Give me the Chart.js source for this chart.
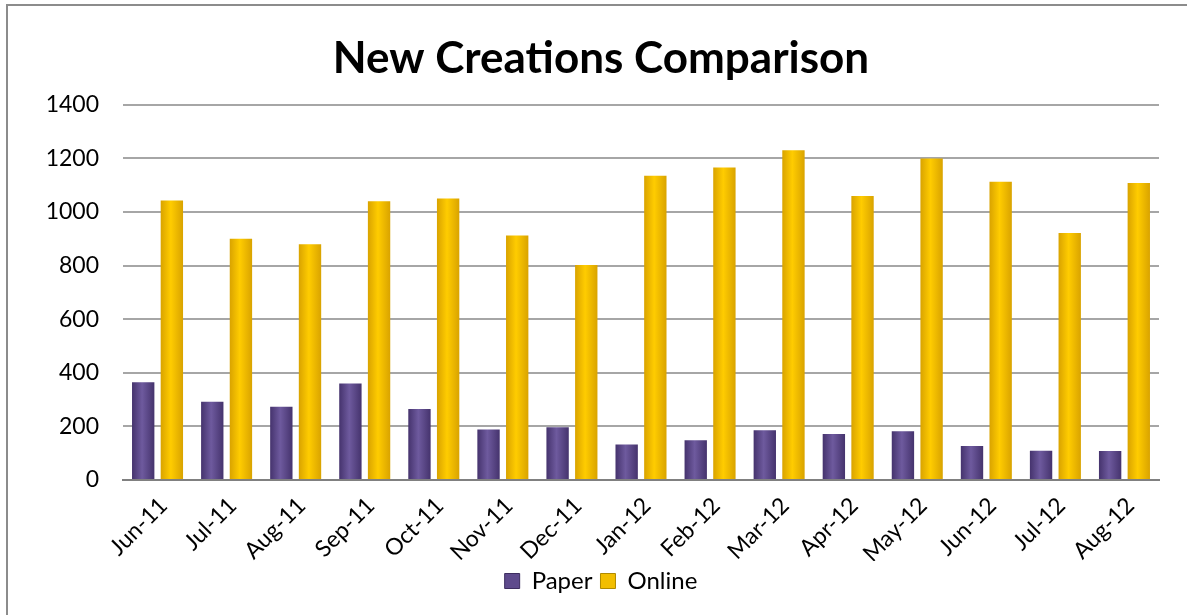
<!DOCTYPE html>
<html>
<head>
<meta charset="utf-8">
<script src="https://cdn.jsdelivr.net/npm/chart.js@4"></script>
<style>
  html, body { margin: 0; padding: 0; background: #fff; }
  canvas { display: block; }
</style>
</head>
<body>
<canvas id="myChart" width="1187" height="615"></canvas>
<script>
const months = [
    'Jun-11', 'Jul-11', 'Aug-11', 'Sep-11', 'Oct-11', 'Nov-11', 'Dec-11',
    'Jan-12', 'Feb-12', 'Mar-12', 'Apr-12', 'May-12', 'Jun-12', 'Jul-12', 'Aug-12'
];
const paper = [365, 292, 273, 360, 265, 188, 197, 132, 148, 186, 172, 182, 127, 109, 108];
const online = [1043, 900, 880, 1040, 1050, 912, 802, 1135, 1166, 1230, 1060, 1200, 1113, 922, 1108];
const yTicks = [0, 200, 400, 600, 800, 1000, 1200, 1400];

const CAT_PCT = 0.83;
const BAR_PCT = 0.78;

// horizontal gradient so the bars look a bit rounded
function barFill(edge, mid) {
    return function (ctx) {
        const chart = ctx.chart;
        const xs = chart.scales.x;
        if (!xs || ctx.dataIndex === undefined) return mid;
        const cat = xs.width / months.length;
        const slot = cat * CAT_PCT / 2;
        const cx = xs.getPixelForValue(ctx.dataIndex) + (ctx.datasetIndex - 0.5) * slot;
        const half = slot * BAR_PCT / 2;
        const g = chart.ctx.createLinearGradient(cx - half, 0, cx + half, 0);
        g.addColorStop(0, edge);
        g.addColorStop(0.45, mid);
        g.addColorStop(1, edge);
        return g;
    };
}

const frame = {
    id: 'frame',
    beforeDraw(chart) {
        const c = chart.ctx;
        c.save();
        c.strokeStyle = '#8c8c8c';
        c.lineWidth = 2;
        c.beginPath();
        c.moveTo(7, chart.height);
        c.lineTo(7, 5);
        c.lineTo(chart.width, 5);
        c.stroke();
        c.restore();
    }
};

const data = {
    labels: months,
    datasets: [{
        label: 'Paper',
        data: paper,
        backgroundColor: barFill('#45336d', '#6e5a9e'),
        categoryPercentage: CAT_PCT,
        barPercentage: BAR_PCT
    }, {
        label: 'Online',
        data: online,
        backgroundColor: barFill('#d9a300', '#ffcc00'),
        categoryPercentage: CAT_PCT,
        barPercentage: BAR_PCT
    }]
};

const config = {
    type: 'bar',
    data: data,
    plugins: [frame],
    options: {
        responsive: false,
        animation: false,
        layout: { padding: { left: 43, right: 28, top: 0, bottom: 12 } },
        font: { family: 'Lato' },
        plugins: {
            title: {
                display: true,
                text: 'New Creations Comparison',
                color: '#000',
                font: { family: 'Lato', size: 44, weight: 'bold' },
                padding: { top: 32, bottom: 20 }
            },
            legend: {
                position: 'bottom',
                labels: {
                    color: '#000',
                    font: { family: 'Lato', size: 24 },
                    boxWidth: 15,
                    boxHeight: 15,
                    padding: 8,
                    generateLabels(chart) {
                        const cols = ['#5e4a8c', '#f2be00'];
                        return chart.data.datasets.map((d, i) => ({
                            text: d.label,
                            fillStyle: cols[i],
                            strokeStyle: i ? '#b08a00' : '#3d2d60',
                            lineWidth: 1,
                            datasetIndex: i,
                            fontColor: '#000'
                        }));
                    }
                }
            },
            tooltip: { enabled: false }
        },
        scales: {
            x: {
                grid: { display: false, drawTicks: false },
                border: { display: true, color: '#808080', width: 2 },
                ticks: {
                    color: '#000',
                    font: { family: 'Lato', size: 23 },
                    minRotation: 45,
                    maxRotation: 45,
                    autoSkip: false,
                    padding: 12,
                    labelOffset: 6
                },
                afterFit(scale) { scale.height = 81; }
            },
            y: {
                min: 0,
                max: 1400,
                afterBuildTicks(scale) { scale.ticks = yTicks.map(v => ({ value: v })); },
                grid: { color: '#a6a6a6', lineWidth: 2, drawTicks: false },
                border: { display: false },
                ticks: {
                    color: '#000',
                    font: { family: 'Lato', size: 23 },
                    padding: 24,
                    callback: v => String(v)
                },
                afterFit(scale) { scale.width = 80; }
            }
        }
    }
};

const myChart = new Chart(document.getElementById('myChart'), config);
</script>
</body>
</html>
